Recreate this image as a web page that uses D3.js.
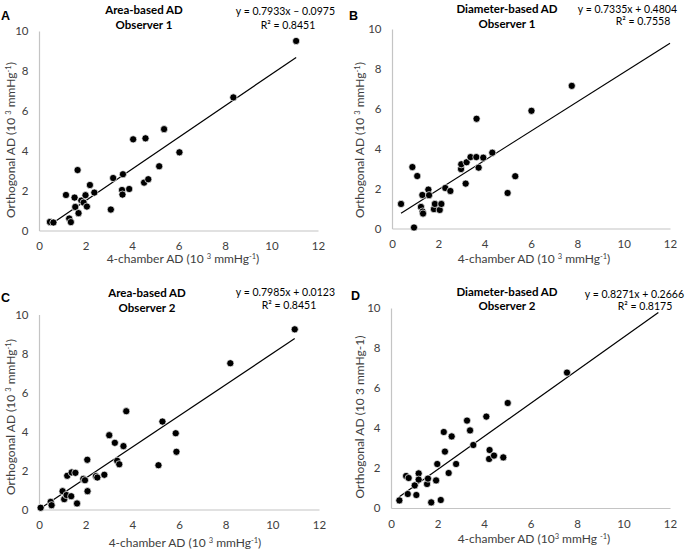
<!DOCTYPE html>
<html>
<head>
<meta charset="utf-8">
<script src="https://cdn.jsdelivr.net/npm/d3@7"></script>
<style>
  body { margin: 0; background: #fff; }
  text { font-family: Lato, "Open Sans", sans-serif; }
</style>
</head>
<body>
<svg id="chart"></svg>
<script>
// Width and height
var width = 685, height = 550;

// Panel headings
var panelLetters = ["A", "B", "C", "D"];
var panelTitles = ["Area-based AD", "Diameter-based AD", "Area-based AD", "Diameter-based AD"];
var observers = ["Observer 1", "Observer 1", "Observer 2", "Observer 2"];
var equations = ["y = 0.7933x \u2013 0.0975", "y = 0.7335x + 0.4804", "y = 0.7985x + 0.0123", "y = 0.8271x + 0.2666"];
var r2Values = ["0.8451", "0.7558", "0.8451", "0.8175"];

// Trend lines (slope, intercept, x range)
var slopes = [0.7933, 0.7335, 0.7985, 0.8271];
var intercepts = [-0.0975, 0.4804, 0.0123, 0.2666];
var trendFrom = [0.47, 0.39, 0.07, 0.36];
var trendTo = [11.06, 12, 10.96, 11.5];

// Tick labels
var xTicks = [0, 2, 4, 6, 8, 10, 12];
var yTicks = [0, 2, 4, 6, 8, 10];

// A: area-based, observer 1
var areaObs1X = [0.47, 0.62, 1.16, 1.30, 1.37, 1.53, 1.56, 1.66, 1.70, 1.82, 1.92, 2.00, 2.06, 2.19, 2.38, 3.09, 3.19, 3.57, 3.59, 3.61, 3.88, 4.05, 4.52, 4.58, 4.70, 5.17, 5.38, 6.04, 8.36, 11.06];
var areaObs1Y = [0.43, 0.40, 1.78, 0.60, 0.42, 1.65, 1.18, 3.03, 0.87, 1.50, 1.40, 1.77, 1.20, 2.28, 1.90, 1.05, 2.63, 2.03, 1.80, 2.82, 2.08, 4.57, 2.40, 4.62, 2.57, 3.22, 5.08, 3.92, 6.67, 9.50];

// B: diameter-based, observer 1
var diamObs1X = [0.39, 0.88, 0.95, 1.09, 1.25, 1.31, 1.32, 1.34, 1.57, 1.60, 1.81, 1.85, 2.06, 2.13, 2.30, 2.52, 2.98, 2.99, 3.18, 3.22, 3.39, 3.64, 3.65, 3.74, 3.94, 4.33, 4.99, 5.32, 6.02, 7.76];
var diamObs1Y = [1.23, 3.08, 0.05, 2.63, 1.08, 1.68, 0.85, 0.75, 1.95, 1.67, 0.97, 1.23, 0.93, 1.23, 2.03, 1.88, 2.98, 3.22, 2.25, 3.32, 3.58, 3.58, 5.50, 3.05, 3.55, 3.80, 1.78, 2.62, 5.90, 7.15];

// C: area-based, observer 2
var areaObs2X = [0.07, 0.50, 0.54, 1.01, 1.08, 1.18, 1.21, 1.38, 1.40, 1.56, 1.63, 1.90, 1.97, 2.07, 2.08, 2.44, 2.50, 2.80, 3.01, 3.25, 3.35, 3.44, 3.62, 3.74, 5.12, 5.29, 5.86, 5.89, 8.20, 10.96];
var areaObs2Y = [0.09, 0.39, 0.22, 0.94, 0.53, 0.74, 1.73, 0.68, 1.90, 1.88, 0.31, 1.57, 1.50, 2.55, 0.94, 1.71, 1.64, 1.78, 3.81, 3.42, 2.50, 2.32, 3.25, 5.04, 2.27, 4.51, 3.91, 2.96, 7.50, 9.24];

// D: diameter-based, observer 2
var diamObs2X = [0.36, 0.65, 0.72, 0.76, 1.02, 1.09, 1.19, 1.19, 1.55, 1.59, 1.73, 1.94, 1.99, 2.14, 2.27, 2.32, 2.48, 2.61, 2.80, 3.27, 3.40, 3.54, 4.10, 4.22, 4.24, 4.43, 4.83, 5.02, 7.57];
var diamObs2Y = [0.38, 1.60, 0.70, 1.50, 1.13, 0.65, 1.73, 1.42, 1.20, 1.47, 0.28, 1.38, 2.20, 0.40, 3.80, 2.82, 1.75, 3.58, 2.20, 4.37, 3.88, 3.15, 4.57, 2.45, 2.90, 2.62, 2.53, 5.25, 6.77];

var seriesX = [areaObs1X, diamObs1X, areaObs2X, diamObs2X];
var seriesY = [areaObs1Y, diamObs1Y, areaObs2Y, diamObs2Y];

// Where each panel sits on the page
var layout = [
  { x0: 39, x1: 318, y0: 230.5, y1: 31, letter: [1, 20], title: [144, 13.5, 29], eq: [335, 15], r2: [288, 29], yt: [15, 140], xt: [183, 263] },
  { x0: 392, x1: 670, y0: 228.5, y1: 29, letter: [349, 19.5], title: [507, 13, 27.5], eq: [677, 13], r2: [643, 25], yt: [364, 140], xt: [534, 263] },
  { x0: 39, x1: 319, y0: 509.5, y1: 314.5, letter: [1, 302], title: [147, 297, 312], eq: [335, 296], r2: [289, 309], yt: [15, 417], xt: [185, 547] },
  { x0: 391, x1: 670, y0: 508, y1: 308, letter: [351, 299.5], title: [507, 296, 309.5], eq: [684, 298], r2: [645, 310], yt: [364, 417], xt: [534, 543] }
];

// axis title pieces, [text, superscript?]
var xTitleParts = [
  [["4-chamber AD (10 ", false], ["3", true], [" mmHg", false], ["-1", true], [")", false]],
  [["4-chamber AD (10 ", false], ["3", true], [" mmHg", false], ["-1", true], [")", false]],
  [["4-chamber AD (10 ", false], ["3", true], [" mmHg", false], ["-1", true], [")", false]],
  [["4-chamber AD (10", false], ["3", true], [" mmHg ", false], ["-1", true], [")", false]]
];
var yTitleParts = [
  [["Orthogonal AD (10 ", false], ["3", true], [" mmHg", false], ["-1", true], [")", false]],
  [["Orthogonal AD (10 ", false], ["3", true], [" mmHg", false], ["-1", true], [")", false]],
  [["Orthogonal AD (10 ", false], ["3", true], [" mmHg", false], ["-1", true], [")", false]],
  [["Orthogonal AD (10 3 mmHg-1)", false]]
];

var svg = d3.select("#chart")
  .attr("width", width)
  .attr("height", height);

function addParts(text, parts) {
  parts.forEach(function (p) {
    var t = text.append("tspan").text(p[0]);
    if (p[1]) t.attr("baseline-shift", "super").style("font-size", "7.5px");
  });
}

function drawPanel(i) {
  var L = layout[i];
  var x = d3.scaleLinear().domain([0, 12]).range([L.x0, L.x1]);
  var y = d3.scaleLinear().domain([0, 10]).range([L.y0, L.y1]);
  var g = svg.append("g");

  // axes
  var xa = g.append("g")
    .attr("transform", "translate(0," + L.y0 + ")")
    .call(d3.axisBottom(x).tickValues(xTicks).tickSize(0).tickPadding(11.5));
  var ya = g.append("g")
    .attr("transform", "translate(" + L.x0 + ",0)")
    .call(d3.axisLeft(y).tickValues(yTicks).tickSize(0).tickPadding(10.5));
  [xa, ya].forEach(function (a) {
    a.select(".domain").attr("stroke", "#c4c4c4").attr("stroke-width", 1.2);
    a.selectAll("text")
      .style("font-family", "Lato, sans-serif")
      .style("font-size", "11.5px")
      .attr("fill", "#404040");
  });

  // trend line
  var tx = [trendFrom[i], trendTo[i]];
  g.append("line")
    .attr("x1", x(tx[0])).attr("y1", y(slopes[i] * tx[0] + intercepts[i]))
    .attr("x2", x(tx[1])).attr("y2", y(slopes[i] * tx[1] + intercepts[i]))
    .attr("stroke", "#000")
    .attr("stroke-width", 1.2);

  // points
  g.selectAll("circle")
    .data(d3.range(seriesX[i].length))
    .enter()
    .append("circle")
    .attr("cx", function (k) { return x(seriesX[i][k]); })
    .attr("cy", function (k) { return y(seriesY[i][k]); })
    .attr("r", 3.6)
    .attr("fill", "#000")
    .attr("stroke", "#fff")
    .attr("stroke-width", 0.7);

  // headings
  g.append("text")
    .attr("x", L.letter[0]).attr("y", L.letter[1])
    .style("font-family", "'Liberation Sans', Arial, sans-serif")
    .style("font-weight", "bold")
    .style("font-size", "12.5px")
    .text(panelLetters[i]);
  g.append("text")
    .attr("x", L.title[0]).attr("y", L.title[1])
    .attr("text-anchor", "middle")
    .style("font-weight", "bold")
    .style("font-size", "11.5px")
    .text(panelTitles[i]);
  g.append("text")
    .attr("x", L.title[0]).attr("y", L.title[2])
    .attr("text-anchor", "middle")
    .style("font-weight", "bold")
    .style("font-size", "11.5px")
    .text(observers[i]);
  g.append("text")
    .attr("x", L.eq[0]).attr("y", L.eq[1])
    .attr("text-anchor", "end")
    .style("font-size", "10.5px")
    .text(equations[i]);
  g.append("text")
    .attr("x", L.r2[0]).attr("y", L.r2[1])
    .attr("text-anchor", "middle")
    .style("font-size", "10.5px")
    .text("R\u00b2 = " + r2Values[i]);

  // axis titles
  var xt = g.append("text")
    .attr("x", L.xt[0]).attr("y", L.xt[1])
    .attr("text-anchor", "middle")
    .attr("fill", "#404040")
    .style("font-size", "12px");
  addParts(xt, xTitleParts[i]);
  var yt = g.append("text")
    .attr("transform", "translate(" + L.yt[0] + "," + L.yt[1] + ") rotate(-90)")
    .attr("text-anchor", "middle")
    .attr("fill", "#404040")
    .style("font-size", "12px");
  addParts(yt, yTitleParts[i]);
}

for (var i = 0; i < 4; i++) drawPanel(i);
</script>
</body>
</html>
